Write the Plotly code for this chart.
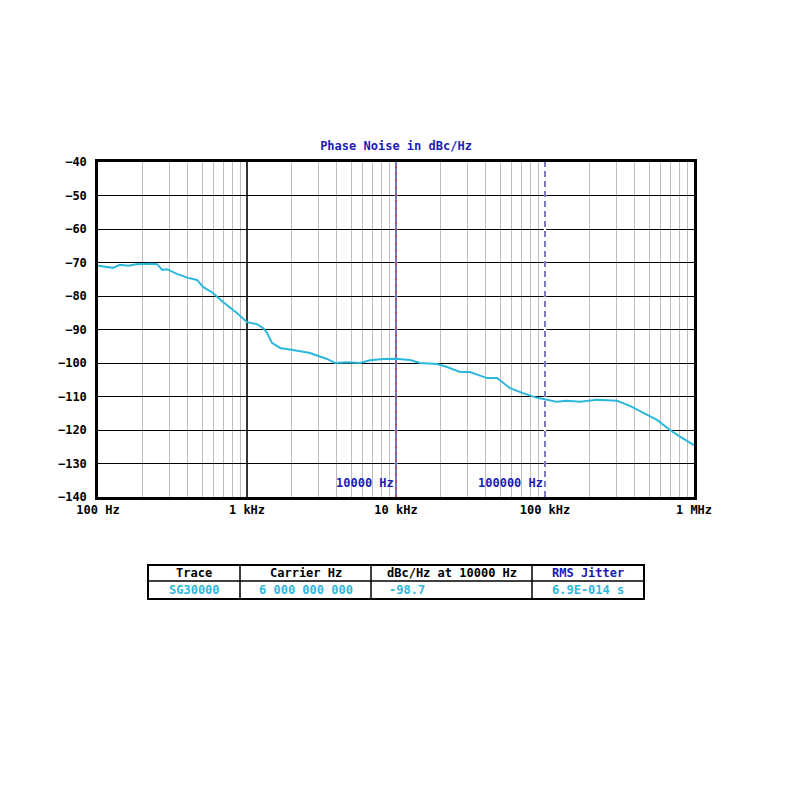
import numpy as np
import plotly.graph_objects as go

# ---- data ----
freq_hz = [100, 113, 126, 140, 160, 180, 200, 230, 249, 270, 290, 339, 402, 462, 507,
           591, 690, 856, 1000, 1167, 1285, 1362, 1471, 1666, 2035, 2647, 3443, 3896,
           4700, 5733, 6692, 8180, 10000, 12415, 14490, 18840, 21990, 26890, 31380,
           40800, 47600, 58200, 71200, 88400, 103100, 120400, 140500, 171800, 223300,
           304200, 371700, 454800, 564500, 690000, 805500, 1000000]
phase_noise = [-71.0, -71.3, -71.6, -70.7, -71.0, -70.5, -70.4, -70.4, -70.5, -72.2,
               -72.0, -73.4, -74.6, -75.2, -77.3, -79.1, -81.8, -85.1, -87.8, -88.4,
               -89.6, -91.0, -94.0, -95.5, -96.1, -97.0, -98.8, -100.0, -99.8, -100.0,
               -99.2, -98.8, -98.7, -99.1, -100.0, -100.3, -101.2, -102.7, -102.7,
               -104.5, -104.5, -107.5, -109.0, -110.4, -111.0, -111.6, -111.3, -111.6,
               -111.0, -111.3, -112.8, -114.9, -117.0, -120.0, -122.0, -124.5]

x_tick_vals = [100, 1000, 10000, 100000, 1000000]
x_tick_text = ["100 Hz", "1 kHz", "10 kHz", "100 kHz", "1 MHz"]
y_tick_vals = [-40, -50, -60, -70, -80, -90, -100, -110, -120, -130, -140]

marker_freqs = [10000, 100000]
marker_labels = ["10000 Hz", "100000 Hz"]

table_header = ["Trace", "Carrier Hz", "dBc/Hz at 10000 Hz", "RMS Jitter"]
table_row = ["SG30000", "6 000 000 000", "-98.7", "6.9E-014 s"]

# ---- styling ----
FONT = "DejaVu Sans Mono"
BLUE = "#1c1cb4"
CYAN = "#2cb8dc"
W, H = 800, 800
OFF = 8  # page offset of the rendered figure
L, R, T, B = 98 - OFF, 694 - OFF, 162 - OFF, 497 - OFF


def px_x(p):
    return (p - OFF - L) / (R - L)


def px_y(p):
    return (B - (p - OFF)) / (B - T)


fig = go.Figure()

# blank the decade gridline under the markers
for f in marker_freqs:
    fig.add_trace(go.Scatter(x=[f, f], y=[-140, -40], mode="lines",
                             line=dict(color="white", width=2.5), hoverinfo="skip",
                             showlegend=False))

# marker lines
fig.add_trace(go.Scatter(x=[marker_freqs[0]] * 2, y=[-140, -40], mode="lines",
                         line=dict(color="#2a2ab0", width=1.3), hoverinfo="skip",
                         showlegend=False))
fig.add_trace(go.Scatter(x=[marker_freqs[0]] * 2, y=[-140, -40], mode="lines",
                         line=dict(color="#e03030", width=1, dash="3px,4px"),
                         hoverinfo="skip", showlegend=False))
fig.add_trace(go.Scatter(x=[marker_freqs[1]] * 2, y=[-140, -40], mode="lines",
                         line=dict(color="#5a5ab0", width=1.6, dash="6px,4px"),
                         hoverinfo="skip", showlegend=False))

# trace
fig.add_trace(go.Scatter(x=freq_hz, y=phase_noise, mode="lines",
                         line=dict(color=CYAN, width=2, shape="linear"),
                         showlegend=False))

for f, lab in zip(marker_freqs, marker_labels):
    fig.add_annotation(x=np.log10(f), y=-140, xref="x", yref="y", text=lab,
                       showarrow=False, xanchor="right", yanchor="bottom",
                       xshift=0, yshift=5,
                       font=dict(family=FONT, size=12, color=BLUE, weight="bold"))

# table drawn in paper coordinates (reference pixel positions)
tx0, tx1, ty0, ty1, tmid = 148, 644, 565, 599, 581
col_edges = [148, 240, 371, 532, 644]
fig.add_shape(type="rect", xref="paper", yref="paper",
              x0=px_x(tx0), x1=px_x(tx1), y0=px_y(ty1), y1=px_y(ty0),
              line=dict(color="black", width=2), fillcolor="white", layer="below")
fig.add_shape(type="line", xref="paper", yref="paper",
              x0=px_x(tx0), x1=px_x(tx1), y0=px_y(tmid), y1=px_y(tmid),
              line=dict(color="black", width=1.5))
for e in col_edges[1:-1]:
    fig.add_shape(type="line", xref="paper", yref="paper",
                  x0=px_x(e), x1=px_x(e), y0=px_y(ty1), y1=px_y(ty0),
                  line=dict(color="black", width=1.5))

header_colors = ["black", "black", "black", BLUE]
for i, (h, v) in enumerate(zip(table_header, table_row)):
    cx = (col_edges[i] + col_edges[i + 1]) / 2
    fig.add_annotation(x=px_x(cx), y=px_y(573), xref="paper", yref="paper", text=h,
                       showarrow=False, xanchor="center", yanchor="middle",
                       font=dict(family=FONT, size=12, color=header_colors[i], weight="bold"))
    if i == 2:
        fig.add_annotation(x=px_x(col_edges[i] + 16), y=px_y(590), xref="paper", yref="paper",
                           text=v, showarrow=False, xanchor="left", yanchor="middle",
                           font=dict(family=FONT, size=12, color=CYAN, weight="bold"))
    else:
        fig.add_annotation(x=px_x(cx), y=px_y(590), xref="paper", yref="paper", text=v,
                           showarrow=False, xanchor="center", yanchor="middle",
                           font=dict(family=FONT, size=12, color=CYAN, weight="bold"))

fig.update_layout(
    width=W, height=H,
    margin=dict(l=L, r=W - R, t=T, b=H - B, autoexpand=False),
    paper_bgcolor="white", plot_bgcolor="white",
    title=dict(text="Phase Noise in dBc/Hz", x=0.5, xref="paper", xanchor="center",
               y=1 - (146 - OFF) / H, yanchor="middle",
               font=dict(family=FONT, size=12, color=BLUE, weight="bold")),
    xaxis=dict(type="log", range=[2, 6], automargin=False,
               tickvals=x_tick_vals, ticktext=x_tick_text,
               showgrid=True, gridcolor="#333333", gridwidth=1.5,
               minor=dict(dtick="D1", showgrid=True, gridcolor="#bdbdbd", gridwidth=1, ticks=""),
               showline=True, linecolor="black", linewidth=2.5, mirror=True,
               ticks="", zeroline=False,
               tickfont=dict(family=FONT, size=12, color="black", weight="bold")),
    yaxis=dict(range=[-140, -40], automargin=False,
               tickvals=y_tick_vals,
               showgrid=True, gridcolor="black", gridwidth=1.3,
               showline=True, linecolor="black", linewidth=2.5, mirror=True,
               ticks="", zeroline=False, ticklabelstandoff=6,
               tickfont=dict(family=FONT, size=12, color="black", weight="bold")),
)

fig.write_html("out.html")
